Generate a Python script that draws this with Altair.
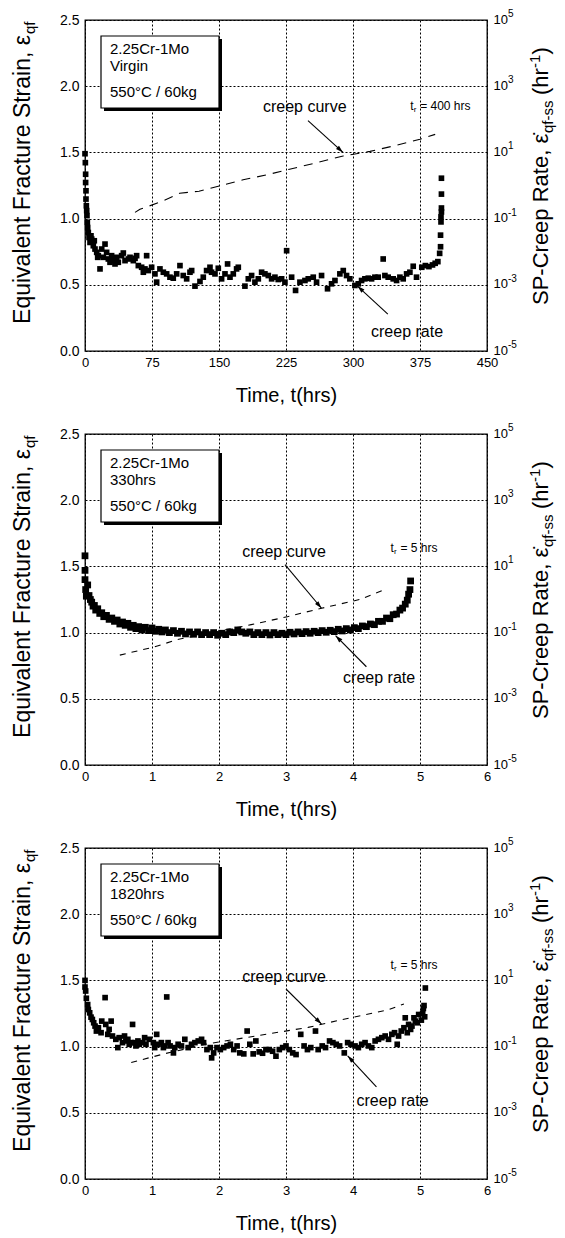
import math
import altair as alt
import pandas as pd

FONT = "Liberation Sans"
W, H = 402, 331

# ---------------- data ----------------
x_ticks_p1 = [0, 75, 150, 225, 300, 375, 450]
x_ticks_p23 = [0, 1, 2, 3, 4, 5, 6]
strain_ticks = [0.0, 0.5, 1.0, 1.5, 2.0, 2.5]
rate_ticks = [1e-5, 1e-3, 1e-1, 1e1, 1e3, 1e5]
rate_exponents = ["-5", "-3", "-1", "1", "3", "5"]

# scatter: (time [hrs], log10 creep rate [1/hr])
p1_points = [(0, 0.96), (0.4, 0.69), (0.7, 0.34), (0.7, 0.09), (1.1, -0.16), (1.1, -0.41), (1.5, -0.61),
             (1.9, -0.76), (2.2, -0.91), (2.6, -1.11), (3.0, -1.27), (3.7, -1.42), (4.5, -1.57), (5.6, -1.72),
             (6.7, -1.52), (7.5, -1.62), (9.3, -1.82), (10.4, -1.67), (11.2, -1.92), (13.1, -2.02), (14.2, -2.17),
             (14.9, -2.12), (16.8, -2.52), (18.7, -1.92), (20.5, -2.17), (22.4, -1.77), (24.2, -2.02), (26.1, -2.22),
             (28.0, -2.32), (29.8, -2.12), (31.7, -2.27), (33.6, -2.37), (35.4, -2.17), (37.3, -2.32), (41.0, -2.12),
             (42.9, -2.04), (44.8, -2.27), (48.5, -2.22), (50.4, -2.17), (54.1, -2.27), (56.0, -2.20), (57.8, -2.12),
             (59.7, -2.42), (63.4, -2.47), (65.3, -2.62), (67.1, -2.52), (69.0, -2.12), (70.9, -2.57), (74.6, -2.47),
             (78.3, -2.67), (80.2, -2.92), (83.9, -2.52), (87.7, -2.62), (91.4, -2.67), (95.1, -2.77), (98.8, -2.80),
             (102.6, -2.67), (106.3, -2.42), (110.0, -2.72), (113.8, -2.82), (117.5, -2.62), (119.4, -2.57),
             (123.1, -3.04), (128.7, -2.90), (132.4, -2.77), (136.1, -2.57), (139.9, -2.47), (141.7, -2.62),
             (145.5, -2.67), (149.2, -2.50), (152.9, -2.82), (156.7, -2.67), (159.6, -2.37), (162.3, -2.77),
             (166.0, -2.67), (169.7, -2.52), (171.6, -2.47), (179.0, -3.04), (182.8, -2.82), (186.5, -2.72),
             (190.2, -2.92), (194.0, -2.82), (197.7, -2.62), (201.4, -2.67), (205.2, -2.72), (208.9, -2.82),
             (212.6, -2.77), (216.3, -2.84), (220.1, -2.82), (223.8, -2.92), (225.7, -1.97), (231.3, -2.77),
             (235.7, -3.17), (240.6, -2.92), (246.2, -2.87), (249.9, -2.82), (255.5, -2.77), (259.2, -2.92),
             (264.8, -2.72), (271.5, -3.12), (276.0, -2.97), (279.8, -2.87), (285.3, -2.67), (289.1, -2.57),
             (292.8, -2.72), (296.5, -2.82), (302.1, -3.02), (305.9, -2.97), (309.6, -2.87), (313.3, -2.82),
             (317.1, -2.80), (320.8, -2.82), (324.5, -2.77), (328.2, -2.77), (333.8, -2.22), (335.7, -2.72),
             (339.4, -2.77), (345.0, -2.82), (348.8, -2.87), (352.5, -2.77), (356.2, -2.82), (360.0, -2.67),
             (363.7, -2.62), (367.4, -2.44), (371.1, -2.77), (377, -2.47), (381, -2.42), (385, -2.45), (389, -2.40),
             (392, -2.35), (395, -2.30), (397, -2.05), (398, -1.85), (398, -1.50), (398.5, -1.10), (398.5, -0.95),
             (399, -0.80), (399, -0.68), (399, -0.26), (399, 0.22)]

p2_points = [(0.00, 1.32), (0.00, 0.88), (0.00, 0.60), (0.01, 0.30), (0.02, 0.10), (0.04, 0.44), (0.06, 0.12),
             (0.08, 0.00), (0.10, -0.08), (0.12, -0.20), (0.14, -0.18), (0.16, -0.32), (0.19, -0.28), (0.22, -0.42),
             (0.25, -0.40), (0.28, -0.52), (0.32, -0.48), (0.36, -0.60), (0.40, -0.56), (0.44, -0.66), (0.48, -0.62),
             (0.52, -0.74), (0.56, -0.68), (0.60, -0.78), (0.64, -0.72), (0.68, -0.84), (0.72, -0.78), (0.76, -0.88),
             (0.80, -0.82), (0.85, -0.92), (0.90, -0.84), (0.95, -0.94), (1.00, -0.86), (1.05, -0.96), (1.10, -0.90),
             (1.15, -0.98), (1.20, -0.92), (1.26, -1.00), (1.32, -0.94), (1.38, -1.02), (1.44, -0.96), (1.50, -1.04),
             (1.56, -0.98), (1.62, -1.05), (1.68, -0.98), (1.74, -1.06), (1.80, -1.00), (1.86, -1.06), (1.92, -1.00),
             (1.98, -1.08), (2.04, -1.02), (2.10, -1.06), (2.16, -0.98), (2.22, -1.00), (2.28, -0.92), (2.34, -0.98),
             (2.40, -1.02), (2.46, -0.98), (2.52, -1.06), (2.58, -1.00), (2.64, -1.06), (2.70, -1.00), (2.76, -1.07),
             (2.82, -1.00), (2.88, -1.06), (2.94, -1.02), (3.00, -1.06), (3.06, -0.99), (3.12, -1.04), (3.18, -0.98),
             (3.24, -1.03), (3.30, -0.97), (3.36, -1.02), (3.42, -0.96), (3.48, -1.00), (3.54, -0.94), (3.60, -0.99),
             (3.66, -0.93), (3.72, -0.97), (3.78, -0.90), (3.84, -0.95), (3.90, -0.88), (3.96, -0.92), (4.02, -0.85),
             (4.08, -0.88), (4.14, -0.80), (4.20, -0.82), (4.26, -0.74), (4.32, -0.76), (4.38, -0.66), (4.44, -0.66),
             (4.50, -0.56), (4.55, -0.58), (4.60, -0.46), (4.65, -0.44), (4.70, -0.32), (4.74, -0.26), (4.78, -0.14),
             (4.81, -0.02), (4.83, 0.16), (4.85, 0.30), (4.86, 0.56)]

p3_points = [(0.00, 1.00), (0.00, 0.80), (0.01, 0.68), (0.02, 0.46), (0.04, 0.27), (0.05, 0.12), (0.07, 0.02),
             (0.09, -0.11), (0.11, -0.18), (0.13, -0.28), (0.15, -0.38), (0.17, -0.53), (0.20, -0.43), (0.24, -0.58),
             (0.25, -0.23), (0.30, 0.48), (0.31, -0.33), (0.34, -0.63), (0.36, -0.48), (0.39, -0.23), (0.41, -0.68),
             (0.46, -0.78), (0.49, -1.03), (0.51, -0.73), (0.56, -0.88), (0.59, -0.68), (0.61, -0.83), (0.64, -0.78),
             (0.66, -0.93), (0.69, -0.88), (0.71, -0.33), (0.74, -0.88), (0.76, -0.98), (0.79, -0.83), (0.81, -0.93),
             (0.86, -0.88), (0.89, -0.73), (0.91, -0.93), (0.96, -0.78), (1.02, -0.88), (1.04, -1.03), (1.07, -0.63),
             (1.09, -0.93), (1.14, -0.88), (1.17, -1.03), (1.19, -0.98), (1.22, 0.50), (1.24, -0.88), (1.27, -0.98),
             (1.32, -1.19), (1.34, -1.03), (1.39, -0.93), (1.44, -0.98), (1.49, -0.78), (1.54, -1.03), (1.59, -0.93),
             (1.64, -0.88), (1.69, -0.83), (1.74, -0.78), (1.77, -0.88), (1.82, -1.09), (1.87, -1.03), (1.89, -1.34),
             (1.92, -1.19), (1.97, -1.03), (2.02, -1.09), (2.07, -1.03), (2.12, -0.98), (2.17, -0.93), (2.22, -1.09),
             (2.27, -0.98), (2.31, -1.19), (2.37, -1.22), (2.42, -0.53), (2.46, -0.93), (2.51, -1.22), (2.55, -0.83),
             (2.60, -1.16), (2.65, -1.20), (2.70, -1.09), (2.75, -1.09), (2.80, -1.14), (2.85, -1.29), (2.90, -1.09),
             (2.95, -1.03), (3.00, -0.98), (3.05, -1.09), (3.10, -1.19), (3.15, -1.24), (3.22, -0.63), (3.27, -0.98),
             (3.32, -1.09), (3.37, -1.03), (3.44, -0.53), (3.48, -1.09), (3.54, -0.98), (3.59, -1.03), (3.65, -0.83),
             (3.70, -0.88), (3.75, -0.93), (3.80, -0.98), (3.87, -1.19), (3.92, -0.88), (3.97, -0.93), (4.03, -0.98),
             (4.08, -1.03), (4.13, -0.93), (4.18, -0.88), (4.23, -0.98), (4.28, -1.03), (4.33, -0.83), (4.38, -0.78),
             (4.43, -0.73), (4.48, -0.68), (4.53, -0.78), (4.58, -0.63), (4.62, -0.58), (4.66, -0.93), (4.68, -0.68),
             (4.72, -0.53), (4.76, -0.43), (4.78, -0.13), (4.81, -0.58), (4.83, -0.33), (4.86, -0.48), (4.88, -0.38),
             (4.91, -0.13), (4.93, -0.23), (4.96, -0.28), (4.98, -0.03), (5.02, -0.20), (5.04, 0.00), (5.05, 0.15),
             (5.06, 0.24), (5.07, -0.10), (5.08, 0.77)]

# creep curves (time, equivalent fracture strain)
p1_curve_t = [56, 61.5, 85, 106, 127.6, 153.7, 177, 205, 229, 257, 289, 319, 349, 375, 392]
p1_curve_s = [1.047, 1.07, 1.127, 1.192, 1.207, 1.252, 1.293, 1.333, 1.373, 1.418, 1.473, 1.508, 1.554, 1.60, 1.636]
p2_curve_t = [0.52, 1.02, 1.40, 2.0, 2.48, 3.02, 3.53, 4.1, 4.48]
p2_curve_s = [0.83, 0.89, 0.95, 1.01, 1.06, 1.12, 1.184, 1.25, 1.326]
p3_curve_t = [0.69, 1.17, 1.82, 2.57, 3.33, 3.83, 4.53, 4.76]
p3_curve_s = [0.88, 0.944, 1.02, 1.082, 1.145, 1.203, 1.279, 1.322]

p1_info = ["2.25Cr-1Mo", "Virgin", "550°C /  60kg"]
p2_info = ["2.25Cr-1Mo", "330hrs", "550°C /  60kg"]
p3_info = ["2.25Cr-1Mo", "1820hrs", "550°C /  60kg"]

# annotations in data units: label pos, arrow start, arrow end
p1_ann = dict(curve=(246, 1.84), curve_arrow=((249.6, 1.74), (288.8, 1.50)),
              rate=(360.5, 0.143), rate_arrow=((339, 0.279), (305, 0.49)),
              tr=(364, 1.85), tr_text="= 400 hrs")
p2_ann = dict(curve=(2.97, 1.61), curve_arrow=((2.985, 1.513), (3.53, 1.184)),
              rate=(4.39, 0.654), rate_arrow=((4.2, 0.742), (3.74, 0.977)),
              tr=(4.56, 1.64), tr_text="= 5 hrs")
p3_ann = dict(curve=(2.97, 1.526), curve_arrow=((3.0, 1.435), (3.53, 1.17)),
              rate=(4.59, 0.59), rate_arrow=((4.35, 0.695), (3.92, 0.93)),
              tr=(4.56, 1.616), tr_text="= 5 hrs")

ARROW = "M0,0L-1,-0.3L-1,0.3Z"
GRID = dict(grid=True, gridColor="black", gridDash=[2, 2], gridWidth=1, gridOpacity=1)


def one():
    return pd.DataFrame({"k": [0]})


def pix_text(text, x, y, size, angle=None, align="left", baseline="alphabetic"):
    kw = dict(text=text, fontSize=size, font=FONT, color="black", align=align, baseline=baseline)
    if angle is not None:
        kw["angle"] = angle
    return alt.Chart(one()).mark_text(**kw).encode(x=alt.value(x), y=alt.value(y))


def make_panel(xmax, xticks, points, curve_t, curve_s, dash, info, ann, msize):
    xs = alt.Scale(domain=[0, xmax], nice=False, zero=True)
    ys = alt.Scale(domain=[0, 2.5], nice=False, zero=True)
    rs = alt.Scale(type="log", domain=[1e-5, 1e5], nice=False)
    x_axis = alt.Axis(
        values=xticks, title="Time, t(hrs)", labelFontSize=13, labelPadding=5, labelFlush=False,
        labelOverlap=False, titleFontSize=20, titleFontWeight="normal", titlePadding=16,
        domain=False, ticks=False, labelColor="black", titleColor="black", labelFont=FONT, titleFont=FONT,
        **GRID)

    def dx_(field="t"):
        return alt.X(f"{field}:Q", scale=xs, axis=x_axis)

    def dy_(field="s"):
        return alt.Y(f"{field}:Q", scale=ys, axis=None)

    layers = []
    # creep curve (left axis) + axes
    curve = alt.Chart(pd.DataFrame({"t": curve_t, "s": curve_s})).mark_line(
        color="black", strokeWidth=1.1, strokeDash=dash
    ).encode(
        x=dx_(),
        y=alt.Y("s:Q", scale=ys, axis=alt.Axis(
            orient="left", values=strain_ticks, format=".1f", title=None, labelFontSize=14, labelPadding=6,
            labelFlush=False, labelOverlap=False, domain=False, ticks=False, labelColor="black",
            labelFont=FONT, **GRID)),
    )
    # info box
    shadow = alt.Chart(one()).mark_rect(color="black").encode(
        x=alt.value(19), x2=alt.value(137), y=alt.value(19), y2=alt.value(91))
    box = alt.Chart(one()).mark_rect(fill="white", stroke="black", strokeWidth=1.2).encode(
        x=alt.value(16), x2=alt.value(134), y=alt.value(16), y2=alt.value(88))
    layers += [curve, shadow, box]
    for line, yy in zip(info, [29, 46, 72]):
        layers.append(pix_text(line, 25, yy, 15, baseline="middle"))

    # scatter on right (log) axis
    sdf = pd.DataFrame({"t": [p[0] for p in points], "rate": [10 ** p[1] for p in points]})
    scatter = alt.Chart(sdf).mark_point(shape="square", filled=True, size=msize, color="black", opacity=1,
                                        strokeWidth=0).encode(
        x=dx_(),
        y=alt.Y("rate:Q", scale=rs, axis=alt.Axis(
            orient="right", values=rate_ticks, labelExpr="'10'", title=None, grid=False, domain=False,
            ticks=False, labelPadding=6, labelFontSize=13, labelFlush=False, labelOverlap=False,
            labelOffset=-1, labelColor="black", labelFont=FONT)),
    )
    expo = alt.Chart(pd.DataFrame({"rate": rate_ticks, "e": rate_exponents})).mark_text(
        align="left", baseline="middle", fontSize=10, font=FONT, color="black", dy=-6
    ).encode(x=alt.value(W + 21), y=alt.Y("rate:Q", scale=rs, axis=None), text="e:N")
    layers += [scatter, expo]

    # annotations
    def dtext(text, pos, size, align="center", baseline="middle", ddx=0, ddy=0):
        return alt.Chart(pd.DataFrame({"t": [pos[0]], "s": [pos[1]]})).mark_text(
            text=text, fontSize=size, font=FONT, color="black", align=align, baseline=baseline, dx=ddx, dy=ddy
        ).encode(x=dx_(), y=dy_())

    def arrow(a, b):
        p1 = (a[0] / xmax * W, H - a[1] / 2.5 * H)
        p2 = (b[0] / xmax * W, H - b[1] / 2.5 * H)
        ang = math.degrees(math.atan2(p2[1] - p1[1], p2[0] - p1[0])) % 360
        rule = alt.Chart(pd.DataFrame({"t": [a[0]], "s": [a[1]], "t2": [b[0]], "s2": [b[1]]})).mark_rule(
            color="black", strokeWidth=1.1).encode(x=dx_(), y=dy_(), x2="t2:Q", y2="s2:Q")
        head = alt.Chart(pd.DataFrame({"t": [b[0]], "s": [b[1]]})).mark_point(
            shape=ARROW, filled=True, size=220, angle=ang, color="black", opacity=1, strokeWidth=0
        ).encode(x=dx_(), y=dy_())
        return [rule, head]

    layers.append(dtext("creep curve", ann["curve"], 16))
    layers += arrow(*ann["curve_arrow"])
    layers.append(dtext("creep rate", ann["rate"], 16))
    layers += arrow(*ann["rate_arrow"])
    layers.append(dtext("t", ann["tr"], 12, align="left"))
    layers.append(dtext("r", ann["tr"], 8, align="left", ddx=3.5, ddy=4))
    layers.append(dtext(ann["tr_text"], ann["tr"], 12, align="left", ddx=10))

    # left axis title
    XL = -55
    layers.append(pix_text("Equivalent Fracture Strain, ε", XL, 15, 23, angle=270, align="right"))
    layers.append(pix_text("qf", XL + 5, 14, 15, angle=270, align="left"))
    # right axis title
    XR = W + 61
    layers.append(pix_text("SP-Creep Rate, ε\u0307", XR, 285, 22, angle=270, align="left"))
    layers.append(pix_text("qf-ss", XR + 5, 113, 15, angle=270, align="left"))
    layers.append(pix_text("(hr", XR, 75, 22, angle=270, align="left"))
    layers.append(pix_text("-1", XR - 8, 48, 15, angle=270, align="left"))
    layers.append(pix_text(")", XR, 34.5, 22, angle=270, align="left"))

    return alt.layer(*layers).resolve_scale(y="independent").properties(width=W, height=H)


panel1 = make_panel(450, x_ticks_p1, p1_points, p1_curve_t, p1_curve_s, [9, 7], p1_info, p1_ann, 32)
panel2 = make_panel(6, x_ticks_p23, p2_points, p2_curve_t, p2_curve_s, [6, 6], p2_info, p2_ann, 46)
panel3 = make_panel(6, x_ticks_p23, p3_points, p3_curve_t, p3_curve_s, [6, 6], p3_info, p3_ann, 32)

chart = alt.vconcat(panel1, panel2, panel3, spacing=16).properties(
    padding={"left": 3, "top": 0, "right": 0, "bottom": 0}
).configure_view(stroke="black", strokeWidth=1.3)

chart.save("out.html", embed_options={"renderer": "svg", "actions": False})
